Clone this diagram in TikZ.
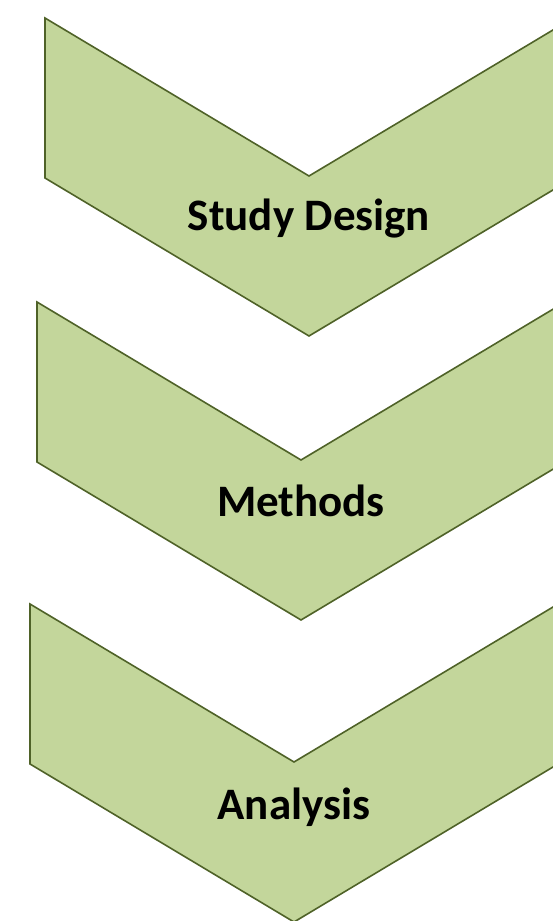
\documentclass[tikz,border=0pt]{standalone}
\usepackage{fontspec}
\setmainfont{Carlito}
\usepackage{tikz}
\usetikzlibrary{calc}
\definecolor{chevfill}{HTML}{C3D69B}
\definecolor{chevline}{HTML}{4F6228}
\tikzset{
	chevron/.style={fill=chevfill, draw=chevline, line width=1.6pt, line join=miter},
	steplabel/.style={font=\fontsize{45}{50}\selectfont\bfseries, text=black, anchor=base, inner sep=0pt}
}
% chevron: left x, top y, half width, notch depth, side height
\def\chevron(#1,#2)(#3:#4:#5){\draw[chevron] (#1, #2) -- ++(#3, #4) -- ++(#3, -#4) -- ++(0, #5) -- ++(-#3, #4) -- ++(-#3, -#4) -- cycle;}

\begin{document}
\begin{tikzpicture}[x=1pt, y=-1pt]
			%%%%% START %%%%%
			\useasboundingbox (0, 0) rectangle (553, 921);
			\clip (0, 0) rectangle (553, 921);
			
			\chevron(45, 18)(264:158:160)
			\node[steplabel] (design) at (309, 230) {Study Design};
			
			\chevron(37, 302)(264:158:160)
			\node[steplabel] (methods) at (301, 516) {Methods};
			
			\chevron(30, 604)(264:158:160)
			\node[steplabel] (analysis) at (294, 819) {Analysis};
			
			%%%%% END %%%%%
\end{tikzpicture}
\end{document}
